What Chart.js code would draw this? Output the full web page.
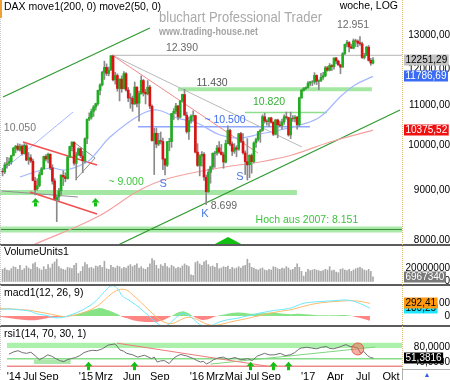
<!DOCTYPE html>
<html>
<head>
<meta charset="utf-8">
<script src="https://cdn.jsdelivr.net/npm/chart.js@4.4.1/dist/chart.umd.min.js"></script>
<style>
  html, body { margin: 0; padding: 0; background: #fff; }
  #frame { position: relative; width: 450px; height: 380px; overflow: hidden; font-family: "Liberation Sans", Arial, sans-serif; }
  .pane { position: absolute; left: 0; width: 450px; }
  .rule { position: absolute; left: 0; width: 450px; height: 2px; background: #5c5c5c; }
</style>
</head>
<body>
<div id="frame">
  <div class="pane" style="top:0;height:245px"><canvas id="mainChart"></canvas></div>
  <div class="pane" style="top:245px;height:40px"><canvas id="volChart"></canvas></div>
  <div class="pane" style="top:285px;height:41px"><canvas id="macdChart"></canvas></div>
  <div class="pane" style="top:326px;height:54px"><canvas id="rsiChart"></canvas></div>
  <div class="rule" style="top:244px"></div>
  <div class="rule" style="top:284px"></div>
  <div class="rule" style="top:325px"></div>
  <div style="position:absolute;left:402px;top:0;height:369px;border-left:1px dotted #d4bd78"></div>
  <div style="position:absolute;left:0;top:0;height:370px;border-left:1px dotted #c8c8c8"></div>
  <div style="position:absolute;left:0;top:0;width:2px;height:18px;background:#f0a030"></div>
  <div style="position:absolute;left:402px;top:369px;width:48px;height:11px;border-top:1px solid #b0b0b0;border-left:1px solid #b0b0b0;color:#3060e0;font-size:7px;text-align:center;line-height:10px">&#9650;</div>
</div>
<script>
const FONT = '"Liberation Sans", Arial, sans-serif';

// x axis: week index from the week of 25 Apr 2014
const tickWeeks = [2, 9.57, 18.43, 35.86, 44.29, 57.43, 70.57, 88.0, 96.57, 105.29, 114.0, 122.86, 140.29, 153.14, 166.14, 179.29];
const tickLabels = ["'14", 'Jul', 'Sep', "'15", 'Mrz', 'Jun', 'Sep', "'16", 'Mrz', 'Mai', 'Jul', 'Sep', "'17", 'Apr', 'Jul', 'Okt'];
const priceTicks = [8000, 9000, 10000, 11000, 12000, 13000];

// weekly DAX candles
const opens = [
  9410,9400,9556,9590,9630,9770,9940,9990,9900,9990,
  9820,10000,9680,9720,9640,9200,9030,9100,9340,9470,
  9750,9690,9800,9490,9200,8800,8860,8990,9320,9290,
  9250,9740,9980,10080,9590,9790,9930,9760,9650,10170,
  10650,10700,10850,10960,11050,11400,11550,11900,12040,11870,
  11970,12370,11690,11810,11450,11710,11450,11860,11410,11200,
  11190,11040,11490,11060,11310,11670,11350,11310,11490,10980,
  10120,10300,10040,10120,10100,9690,9550,10100,10100,10800,
  10850,10990,10700,11120,11290,10750,10340,10610,10730,10740,
  9850,9540,9760,9800,9280,8970,9390,9510,9820,9830,
  9950,9850,9790,9620,10050,10370,10040,9870,9950,9920,
  10290,10100,9830,9630,9560,9770,9630,10070,10150,10340,
  10370,10710,10600,10590,10680,10570,10280,10630,10510,10490,
  10580,10710,10690,10260,10670,10660,10700,10510,11200,11400,
  11450,11480,11600,11630,11630,11810,11650,11670,11760,11800,
  12030,11960,12090,12060,12310,12220,12110,12050,12440,12720,
  12770,12640,12600,12820,12810,12760,12730,12320,12390,12630,
  12240,12160
];
const highs = [
  9480,9610,9730,9720,9780,9960,10010,10050,10040,10020,
  10050,10030,9840,9790,9690,9280,9250,9400,9500,9760,
  9790,9830,9810,9560,9250,8900,9040,9340,9420,9380,
  9750,9990,10090,10100,9850,9950,9960,9870,10190,10650,
  10810,10910,11000,11060,11410,11580,11930,12220,12140,12050,
  12390,12380,11900,11860,11720,11800,11920,11890,11480,11320,
  11250,11630,11500,11380,11800,11700,11430,11670,11540,11020,
  10420,10430,10300,10330,10180,9700,10100,10180,10800,10920,
  11060,11000,11130,11300,11430,10830,10700,10760,10860,10750,
  10050,9790,9860,9840,9330,9460,9530,9830,9870,10010,
  10100,10030,9850,10130,10480,10400,10090,10050,10000,10300,
  10320,10290,9880,10170,9790,9810,10090,10180,10350,10400,
  10760,10800,10640,10690,10700,10590,10650,10650,10600,10650,
  10760,10830,10700,10830,10740,10740,10720,11220,11430,11480,
  11500,11640,11650,11670,11890,11830,11690,11870,11900,12070,
  12070,12150,12120,12310,12330,12250,12130,12470,12720,12840,
  12800,12720,12880,12870,12850,12950,12780,12450,12660,12680,
  12300,12320
];
const lows = [
  9310,9360,9480,9540,9570,9760,9830,9880,9870,9780,
  9800,9650,9570,9610,9200,8900,9000,9070,9330,9460,
  9640,9600,9450,9130,8800,8355,8780,8900,9100,9180,
  9240,9720,9880,9550,9220,9770,9720,9380,9600,10050,
  10610,10650,10720,10880,11000,11280,11520,11700,11810,11800,
  11950,11660,11570,11380,11120,11350,11440,11380,11100,10930,
  10850,11030,10960,10600,11300,11250,11040,11280,10920,10110,
  9340,9950,10000,10040,9450,9330,9520,9880,9960,10640,
  10780,10630,10680,11100,10750,10300,10150,10550,10610,9830,
  9520,9310,9530,9210,8700,8950,9150,9460,9500,9780,
  9820,9780,9480,9600,10040,10000,9770,9820,9740,9890,
  10070,9800,9340,9220,9270,9370,9600,9960,10110,10080,
  10350,10550,10500,10460,10550,10240,10260,10190,10460,10400,
  10520,10650,10230,10170,10590,10580,10400,10470,11190,11380,
  11420,11460,11520,11530,11570,11560,11420,11640,11700,11780,
  11930,11940,11950,11990,12140,12100,11860,12040,12410,12640,
  12490,12590,12580,12650,12640,12680,12300,12280,12380,12220,
  12100,12140
];
const closes = [
  9401,9556,9581,9630,9768,9943,9987,9912,9987,9815,
  10009,9666,9720,9644,9210,9009,9092,9339,9470,9747,
  9691,9799,9490,9195,8812,8850,8988,9326,9291,9252,
  9732,9980,10087,9594,9786,9927,9764,9648,10167,10649,
  10694,10846,10963,11050,11401,11550,11901,12039,11868,11967,
  12374,11688,11810,11454,11709,11447,11865,11413,11197,11196,
  11041,11492,11058,11316,11674,11347,11308,11490,10985,10124,
  10298,10038,10123,10104,9688,9553,10096,10104,10795,10850,
  10988,10708,11119,11293,10752,10340,10608,10727,10743,9849,
  9545,9764,9798,9286,8967,9388,9513,9824,9831,9950,
  9851,9794,9622,10051,10373,10038,9870,9952,9916,10286,
  10103,9834,9631,9557,9776,9629,10066,10147,10337,10367,
  10713,10604,10588,10684,10573,10276,10627,10511,10490,10580,
  10711,10696,10259,10668,10665,10700,10513,11203,11404,11450,
  11481,11599,11629,11630,11814,11651,11666,11757,11804,12027,
  11963,12095,12064,12313,12225,12109,12049,12438,12717,12770,
  12638,12602,12823,12816,12753,12733,12325,12389,12631,12240,
  12163,12251.29
];

// moving averages
const sma200Weeks = [14.0, 43.6, 63.4, 77.3, 102.7, 118.8, 133.6, 151.2, 171];
const sma200 = [7904, 8446, 9004, 9264, 9508, 9622, 9782, 10088, 10375.52];
const sma50Weeks = [8.0, 21.9, 28.8, 39.0, 43.6, 49.6, 63.4, 71.3, 80.5, 89.8, 100.4, 109.6, 118.8, 128.1, 137.3, 146.5, 155.8, 162.7, 171];
const sma50 = [9286, 9486, 9441, 9622, 9853, 10209, 10755, 10884, 10680, 10553, 10257, 10184, 10282, 10380, 10503, 10704, 11224, 11548, 11786.69];

// drawn trend lines and levels: [week, price] pairs
const greenUpper = [[0.2, 11224], [68.0, 13217]];
const greenLower = [[53.3, 7904], [183.5, 10884]];
const grayFromPeak = [[50.5, 12398], [138.2, 9970]];
const redFromPeak = [[50.5, 12398], [117.9, 9829]];
const redChannelUp = [[9.4, 10088], [43.6, 9553]];
const redChannelLow = [[12.65, 8961], [43.6, 8506]];
const pennantUp = [[33.4, 10065], [42.7, 9714]];
const pennantLow = [[34.4, 9264], [42.7, 9714]];
const grayBase = [[-0.3, 8983], [34.8, 8856]];
const blueChannel = [[0.2, 9441], [32.5, 10831]];
const level12390 = [[50.5, 12390], [184.4, 12390]];
const level11430 = [[81, 11430], [170.5, 11430]];
const level10820 = [[111.9, 10820], [149.8, 10820]];
const level10500 = [[62.5, 10460], [141.9, 10460]];
const level9000 = [[-1.2, 8950], [135.9, 8950]];
const level8151 = [[-1.2, 8200], [184.4, 8200]];

const noteTexts = ['12.390', '12.951', '11.430', '10.820', '~ 10.500', '10.050', '~ 9.000', 'S', 'K', '8.699', 'S', 'Hoch aus 2007: 8.151'];
const noteWeeks = [82.8, 161.8, 96.7, 123, 102.7, 8, 57, 74.1, 93.4, 102.2, 109.6, 140.5];
const notePrices = [12606, 13312, 11602, 11092, 10628, 10429, 9177, 9132, 8506, 8670, 9286, 8386];
const mainArrowWeeks = [15.0, 42.7];
const mainArrowPrice = 8836;
const bigArrow = [104.1, 8055];

// volume in millions
const volumeM = [
  18,20,17,16,19,22,21,18,24,17,19,23,20,18,26,28,21,19,17,22,18,25,20,26,29,33,22,19,18,17,21,20,19,24,27,12,
  15,22,28,25,20,21,19,23,22,24,21,30,19,18,24,21,20,23,22,19,21,20,23,25,22,24,26,20,22,19,18,21,26,34,31,24,19,25,23,27,22,20,24,22,19,21,20,23,26,24,22,10,
  9,28,30,26,24,29,31,25,22,23,21,27,19,20,22,21,23,18,21,19,20,22,20,23,24,33,27,21,20,18,17,19,20,17,16,18,17,22,21,19,18,20,19,22,20,17,18,21,26,21,15,8,
  14,18,16,17,18,17,16,15,16,18,17,22,16,17,14,13,18,19,17,16,18,15,17,19,20,21,19,17,16,18,15,6.96734
];

// macd1(12, 26, 9)
const macdWeeks = [-1.2,3.4,8.0,12.7,15.9,20.5,24.2,27.9,31.1,34.8,39.0,42.7,45.0,47.7,50.5,53.3,55.1,57.9,60.2,62.5,
  64.8,67.1,69.4,71.7,74.1,76.4,78.7,81.0,83.3,85.6,87.4,89.8,92.1,94.4,96.7,99.0,102.7,105.9,108.7,111.9,
  115.1,117.9,121.1,124.4,127.1,130.4,133.6,136.4,139.6,142.8,145.6,148.8,152.1,154.8,158.1,160.4,162.7,165.9,169.6];
const macdLine = [150,160,140,110,50,10,-40,-30,20,90,200,330,450,600,700,620,470,380,300,220,
  120,20,-90,-180,-250,-200,-100,0,60,20,-40,-150,-230,-260,-220,-160,-100,-70,-50,-10,
  20,60,90,120,140,160,190,250,300,320,330,340,350,360,370,360,330,270,180.25];
const signalLine = [170,165,150,130,100,60,20,-10,0,40,110,200,280,400,520,600,620,580,480,380,
  270,160,50,-50,-130,-170,-170,-120,-60,-30,-40,-80,-140,-190,-215,-210,-170,-130,-100,-70,
  -30,0,40,70,100,125,150,190,230,270,295,315,330,340,350,355,350,330,292.41];
const macdHist = [-20,-50,-80,-100,-90,-50,-30,-10,10,50,110,160,185,150,100,40,-20,-60,-100,-120,
  -130,-140,-140,-130,-100,-40,20,80,110,70,10,-50,-90,-80,-40,0,40,70,80,70,
  50,60,70,80,70,50,40,50,40,30,20,15,15,20,25,10,-20,-60,-112];

// rsi1(14, 70, 30, 1)
const rsiWeeks = [-0.3,2,4,6,8,10,12,14,16,18,20,22,24,25.5,27,29,31,33,35,37,
  39,41,43.6,46.4,49.6,51.9,53.5,55.1,57.9,60.2,62,63.4,65,66.7,68,69.4,71,72.7,75,77.3,
  79,80.5,83.3,86.5,88,89.8,91,92.5,94,95.8,98,100.4,102.7,105.9,108.7,111.9,114,116.5,119.8,122,
  124.4,127.2,129.5,131.8,134,135.9,137,139.6,142,144.2,146.5,148.8,150.5,152.1,154.8,156.5,158.1,160,161.3,163.6,
  165,166.4,168.2,169.6,171];
const rsiValues = [62,68,71,66,64,67,58,47,53,60,56,49,44,42,47,50,53,58,66,70,
  72,71,76,86,89,73,70,64,60,54,57,59,55,50,54,41,44,45,37,52,
  58,61,57,50,45,41,43,36,40,47,52,54,48,53,47,50,45,57,64,60,
  60,64,58,60,66,75,78,80,78,76,80,82,77,76,80,84,87,82,82,78,
  64,69,58,53,51.3816];
const rsiBand = [78, 92];
const rsiBoxWeeks = [11.3, 28.8];
const rsiBoxRange = [36, 47];
const rsiMid = 50;
const rsiLow = 30;
const rsiRedLine = [[50.5, 91], [122.5, 29]];
const rsiGreenLine = [[94.4, 35.6], [171.9, 80.7]];
const rsiCircle = [163.6, 75.6];
const rsiArrowWeeks = [36.7, 58.4, 112.8, 123.9, 130.8];
const rsiArrowValue = 42;

const X_MIN = -1.2, X_MAX = 184.4;
const UP = '#1fae1f', DOWN = '#d81414';

function pts(pairs) { return pairs.map(p => ({ x: p[0], y: p[1] })); }
function zip(xs, ys) { return xs.map((x, i) => ({ x: x, y: ys[i] })); }
function seg(pairs, color, width, order) {
  return { type: 'line', data: pts(pairs), borderColor: color, borderWidth: width, pointRadius: 0, fill: false, order: order };
}
function comma(v, d) { return v.toFixed(d).replace('.', ','); }

function xAxis(show) {
  return {
    type: 'linear', min: X_MIN, max: X_MAX, offset: false, display: show,
    grid: { display: false, drawTicks: false }, border: { display: false },
    afterBuildTicks: s => { s.ticks = tickWeeks.map(v => ({ value: v })); },
    afterFit: s => { s.height = show ? 10 : 0; s.paddingLeft = 0; s.paddingRight = 0; },
    ticks: { autoSkip: false, maxRotation: 0, padding: 0, color: '#000', font: { size: 11, family: FONT },
      callback: (v, i) => tickLabels[i] }
  };
}
function yAxis(type, min, max, ticks, fmt, pad) {
  return {
    type: type, position: 'right', min: min, max: max,
    grid: { display: false, drawTicks: false }, border: { display: false },
    afterBuildTicks: s => { s.ticks = ticks.map(v => ({ value: v })); },
    afterFit: s => { s.width = 48; s.paddingTop = 0; s.paddingBottom = 0; },
    ticks: { autoSkip: false, padding: pad, crossAlign: 'far', color: '#000', font: { size: 10, family: FONT }, callback: fmt }
  };
}

// text notes, arrows, value tags and headers
const marks = {
  id: 'marks',
  beforeDatasetsDraw(chart, args, opts) {
    const ctx = chart.ctx;
    ctx.save();
    (opts.heads || []).forEach(h => {
      ctx.font = h.font; ctx.fillStyle = h.color; ctx.textAlign = h.align || 'left'; ctx.textBaseline = 'middle';
      ctx.fillText(h.text, h.x, h.y, h.maxWidth);
    });
    ctx.restore();
  },
  afterDatasetsDraw(chart, args, opts) {
    const ctx = chart.ctx, xs = chart.scales.x, ys = chart.scales.y;
    ctx.save();
    (opts.notes || []).forEach(n => {
      ctx.font = n.font; ctx.fillStyle = n.color; ctx.textAlign = 'center'; ctx.textBaseline = 'middle';
      ctx.fillText(n.text, xs.getPixelForValue(n.x), ys.getPixelForValue(n.y));
    });
    ctx.fillStyle = '#12c012';
    (opts.arrows || []).forEach(a => {
      const px = Math.round(xs.getPixelForValue(a[0])) + 0.5, py = ys.getPixelForValue(a[1]);
      ctx.beginPath();
      ctx.moveTo(px, py); ctx.lineTo(px + 4, py + 4.5); ctx.lineTo(px - 4, py + 4.5); ctx.closePath(); ctx.fill();
      ctx.fillRect(px - 1.5, py + 4.5, 3, 4);
    });
    if (opts.bigArrow) {
      const b = opts.bigArrow, px = xs.getPixelForValue(b[0]), py = ys.getPixelForValue(b[1]);
      ctx.beginPath();
      ctx.moveTo(px, py); ctx.lineTo(px + 15, chart.chartArea.bottom); ctx.lineTo(px - 15, chart.chartArea.bottom); ctx.closePath(); ctx.fill();
    }
    ctx.restore();
  },
  afterDraw(chart, args, opts) {
    const ctx = chart.ctx, ys = chart.scales.y, left = chart.chartArea.right + 2;
    ctx.save();
    ctx.font = '10px ' + FONT; ctx.textBaseline = 'middle'; ctx.textAlign = 'left';
    (opts.tags || []).forEach(t => {
      const py = Math.round(ys.getPixelForValue(t.value));
      const w = ctx.measureText(t.text).width + 3;
      ctx.fillStyle = t.bg; ctx.fillRect(left, py - 5.5, w, 11);
      ctx.fillStyle = t.fg; ctx.fillText(t.text, left + 1.5, py + 0.5);
    });
    ctx.restore();
  }
};

function baseOptions(scales, markOpts) {
  return {
    responsive: true, maintainAspectRatio: false, animation: false,
    layout: { padding: 0 }, events: [],
    plugins: { legend: { display: false }, tooltip: { enabled: false }, marks: markOpts },
    scales: scales
  };
}

// ---------- main price panel
const wickPts = closes.map((c, i) => ({ x: i, y: [lows[i], highs[i]] }));
const bodyPts = closes.map((c, i) => ({ x: i, y: [opens[i], c] }));
const bodyColors = closes.map((c, i) => c >= opens[i] ? UP : DOWN);
const noteColors = ['#6a6a6a', '#6a6a6a', '#555', '#33b033', '#3d6df0', '#7a7a7a', '#3ec43e', '#4a78e8', '#4a78e8', '#666', '#4a78e8', '#3ec43e'];

new Chart(document.getElementById('mainChart'), {
  type: 'bar',
  data: {
    datasets: [
      seg(level8151, 'rgba(140,225,140,0.75)', 6, 20),
      seg(level8151, '#3a8a3a', 1, 19),
      seg(level9000, 'rgba(140,225,140,0.8)', 5, 20),
      seg(level11430, 'rgba(140,225,140,0.8)', 4, 20),
      seg(level10820, '#8ede8e', 1.5, 18),
      seg(level10500, '#8fa8ff', 1.5, 18),
      seg(level12390, '#b4b4b4', 1, 18),
      seg(greenUpper, '#2f9a2f', 1.2, 15),
      seg(greenLower, '#2f9a2f', 1.2, 15),
      seg(grayFromPeak, '#b8b8b8', 1, 15),
      seg(redFromPeak, '#f08a8a', 1, 15),
      seg(redChannelUp, '#f05050', 1.5, 15),
      seg(redChannelLow, '#f05050', 1.5, 15),
      seg(pennantUp, '#909090', 1, 15),
      seg(pennantLow, '#909090', 1, 15),
      seg(grayBase, '#909090', 1, 15),
      seg(blueChannel, '#a9b8ff', 1, 15),
      { type: 'line', data: zip(sma200Weeks, sma200), borderColor: '#f4a0a0', borderWidth: 1.2, pointRadius: 0, tension: 0.4, order: 12 },
      { type: 'line', data: zip(sma50Weeks, sma50), borderColor: '#a4b6ff', borderWidth: 1.2, pointRadius: 0, tension: 0.4, order: 12 },
      { type: 'bar', data: wickPts, backgroundColor: '#8a8a8a', barThickness: 1, grouped: false, order: 5 },
      { type: 'bar', data: bodyPts, backgroundColor: bodyColors, barThickness: 2, grouped: false, order: 4 }
    ]
  },
  options: baseOptions({
    x: xAxis(false),
    y: yAxis('logarithmic', 7904, 14124, priceTicks, v => comma(v, 2), 5)
  }, {
    heads: [
      { text: 'DAX move1(200, 0) move2(50, 0)', x: 4, y: 7, font: '10.5px ' + FONT, color: '#000' },
      { text: 'bluchart Professional Trader', x: 159, y: 18, font: '15px ' + FONT, color: '#a9a9a9', maxWidth: 163 },
      { text: 'www.trading-house.net', x: 159, y: 32, font: 'bold 10px ' + FONT, color: '#a4a4a4', maxWidth: 99 },
      { text: 'woche, LOG', x: 398, y: 6, font: '10.5px ' + FONT, color: '#000', align: 'right' }
    ],
    notes: noteTexts.map((t, i) => ({ text: t, x: noteWeeks[i], y: notePrices[i], color: noteColors[i],
      font: (t.length === 1 ? '11px ' : '10.5px ') + FONT })),
    arrows: mainArrowWeeks.map(w => [w, mainArrowPrice]),
    bigArrow: bigArrow,
    tags: [
      { value: closes[closes.length - 1], text: comma(closes[closes.length - 1], 2), bg: '#c4c4c4', fg: '#000' },
      { value: sma50[sma50.length - 1], text: comma(sma50[sma50.length - 1], 2), bg: '#3a6cf6', fg: '#fff' },
      { value: sma200[sma200.length - 1], text: comma(sma200[sma200.length - 1], 2), bg: '#f01010', fg: '#fff' }
    ]
  }),
  plugins: [marks]
});

// ---------- volume panel
new Chart(document.getElementById('volChart'), {
  type: 'bar',
  data: { datasets: [{ data: volumeM.map((v, i) => ({ x: i, y: v })), backgroundColor: '#a8a8a8', barThickness: 1 }] },
  options: baseOptions({
    x: xAxis(false),
    y: yAxis('linear', -5.2, 54.1, [0, 20], v => v === 0 ? '0' : String(v * 1000000), 2)
  }, {
    heads: [{ text: 'VolumeUnits1', x: 4, y: 7, font: '10.5px ' + FONT, color: '#000' }],
    tags: [{ value: volumeM[volumeM.length - 1], text: String(Math.round(volumeM[volumeM.length - 1] * 1000000)), bg: '#7a7a7a', fg: '#fff' }]
  }),
  plugins: [marks]
});

// ---------- macd panel
new Chart(document.getElementById('macdChart'), {
  type: 'line',
  data: {
    datasets: [
      { data: zip(macdWeeks, macdHist), borderWidth: 0, pointRadius: 0, tension: 0.3,
        fill: { target: 'origin', above: '#86e486', below: '#ff8585' }, order: 5 },
      { data: zip(macdWeeks, signalLine), borderColor: '#ffb86a', borderWidth: 1, pointRadius: 0, tension: 0.4, order: 2 },
      { data: zip(macdWeeks, macdLine), borderColor: '#6ae8ff', borderWidth: 1, pointRadius: 0, tension: 0.4, order: 1 }
    ]
  },
  options: baseOptions({
    x: xAxis(false),
    y: yAxis('linear', -231, 716, [0, 300], v => v === 0 ? '0' : comma(v, 2), 16)
  }, {
    heads: [{ text: 'macd1(12, 26, 9)', x: 4, y: 8, font: '10.5px ' + FONT, color: '#000' }],
    tags: [
      { value: macdLine[macdLine.length - 1], text: comma(macdLine[macdLine.length - 1], 2), bg: '#1ee6ff', fg: '#000' },
      { value: signalLine[signalLine.length - 1], text: comma(signalLine[signalLine.length - 1], 2), bg: '#ff9a10', fg: '#000' }
    ]
  }),
  plugins: [marks]
});

// ---------- rsi panel
new Chart(document.getElementById('rsiChart'), {
  type: 'line',
  data: {
    datasets: [
      { data: pts([[X_MIN, rsiBand[1]], [X_MAX, rsiBand[1]]]), borderWidth: 0, pointRadius: 0, fill: '+1', backgroundColor: 'rgba(150,238,150,0.8)', order: 20 },
      { data: pts([[X_MIN, rsiBand[0]], [X_MAX, rsiBand[0]]]), borderWidth: 0, pointRadius: 0, fill: false, order: 20 },
      { data: pts([[rsiBoxWeeks[0], rsiBoxRange[1]], [rsiBoxWeeks[1], rsiBoxRange[1]]]), borderWidth: 0, pointRadius: 0, fill: '+1', backgroundColor: 'rgba(150,225,150,0.8)', order: 20 },
      { data: pts([[rsiBoxWeeks[0], rsiBoxRange[0]], [rsiBoxWeeks[1], rsiBoxRange[0]]]), borderWidth: 0, pointRadius: 0, fill: false, order: 20 },
      seg([[X_MIN, rsiMid], [X_MAX, rsiMid]], '#88dd88', 1.5, 18),
      seg([[X_MIN, rsiLow], [X_MAX, rsiLow]], '#f08a8a', 1.5, 18),
      seg(rsiRedLine, '#f07a7a', 1, 15),
      seg(rsiGreenLine, '#7fd67f', 1, 15),
      { data: zip(rsiWeeks, rsiValues), borderColor: '#707070', borderWidth: 1, pointRadius: 0, order: 5 },
      { data: pts([rsiCircle]), showLine: false, pointRadius: 6, pointBackgroundColor: 'rgba(240,110,90,0.55)', pointBorderColor: '#e06050', pointBorderWidth: 1, order: 1 }
    ]
  },
  options: baseOptions({
    x: xAxis(true),
    y: yAxis('linear', 20, 117.8, [40, 80], v => comma(v, 4), 11)
  }, {
    heads: [{ text: 'rsi1(14, 70, 30, 1)', x: 4, y: 8, font: '10.5px ' + FONT, color: '#000' }],
    arrows: rsiArrowWeeks.map(w => [w, rsiArrowValue]),
    tags: [{ value: rsiValues[rsiValues.length - 1], text: comma(rsiValues[rsiValues.length - 1], 4), bg: '#000', fg: '#fff' }]
  }),
  plugins: [marks]
});
</script>
</body>
</html>
